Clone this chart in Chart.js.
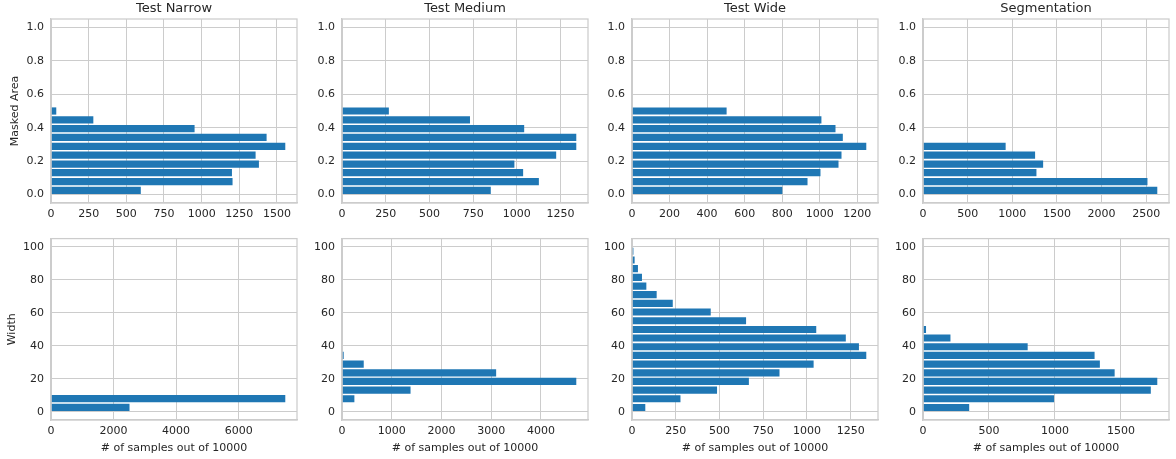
<!DOCTYPE html>
<html lang="en">
<head>
  <meta charset="UTF-8">
  <title>Masked area and width histograms</title>
  <script src="https://cdn.jsdelivr.net/npm/chart.js"></script>
  <style>
    body {
      margin: 0;
      background: #ffffff;
    }
    #wrap {
      position: relative;
      width: 1176px;
      height: 459px;
    }
    canvas {
      position: absolute;
    }
  </style>
</head>
<body>
  <div id="wrap"></div>

  <script>
    const panelTitles = ["Test Narrow", "Test Medium", "Test Wide", "Segmentation"];

    // top row: masked area, bin centres and counts
    const areaBins = [0.025, 0.078, 0.131, 0.183, 0.236, 0.289, 0.342, 0.395, 0.447, 0.500];
    const areaBinsSeg = [0.025, 0.078, 0.131, 0.183, 0.236, 0.289];
    const areaNarrow = [596, 1205, 1201, 1380, 1358, 1555, 1431, 953, 281, 35];
    const areaMedium = [851, 1126, 1036, 986, 1225, 1340, 1340, 1042, 732, 268];
    const areaWide = [801, 935, 1004, 1100, 1116, 1248, 1123, 1084, 1009, 504];
    const areaSeg = [2625, 2515, 1271, 1346, 1256, 926];

    // bottom row: width, bin centres and counts
    const widthBinsNarrow = [2.6, 7.9];
    const widthBinsMedium = [7.9, 13.1, 18.4, 23.6, 28.9, 34.2];
    const widthBinsWide = [2.6, 7.9, 13.1, 18.4, 23.6, 28.9, 34.2, 39.4, 44.7, 49.9,
                           55.2, 60.5, 65.7, 71.0, 76.2, 81.5, 86.8, 92.0, 97.3];
    const widthBinsSeg = [2.6, 7.9, 13.1, 18.4, 23.6, 28.9, 34.2, 39.4, 44.7, 49.9];
    const widthNarrow = [2510, 7490];
    const widthMedium = [249, 1378, 4710, 3099, 437, 34];
    const widthWide = [76, 277, 486, 668, 843, 1038, 1339, 1297, 1222, 1053,
                       652, 450, 233, 141, 82, 57, 34, 15, 8];
    const widthSeg = [350, 993, 1726, 1775, 1452, 1340, 1300, 793, 208, 23];

    // tick labels
    const areaTicks = [0, 0.2, 0.4, 0.6, 0.8, 1.0];
    const widthTicks = [0, 20, 40, 60, 80, 100];
    const areaCountTicks = [
      [0, 250, 500, 750, 1000, 1250, 1500],
      [0, 250, 500, 750, 1000, 1250],
      [0, 200, 400, 600, 800, 1000, 1200],
      [0, 500, 1000, 1500, 2000, 2500]
    ];
    const widthCountTicks = [
      [0, 2000, 4000, 6000],
      [0, 1000, 2000, 3000, 4000],
      [0, 250, 500, 750, 1000, 1250],
      [0, 500, 1000, 1500]
    ];

    const ink = "#262626";
    const gridGrey = "#cccccc";
    const family = "'DejaVu Sans', sans-serif";
    const plotLeft = [51, 342, 632, 923];

    // matplotlib style spines on all four sides, drawn over the bars
    const frame = {
      id: "frame",
      afterDatasetsDraw(chart) {
        const { ctx, chartArea: a } = chart;
        ctx.save();
        ctx.strokeStyle = gridGrey;
        ctx.lineWidth = 1.25;
        ctx.strokeRect(a.left, a.top, a.width, a.height);
        ctx.restore();
      }
    };

    function panel(col, row, bins, counts, xTicks) {
      const top = row === 0;
      const canvas = document.createElement("canvas");
      canvas.width = 51 + 246 + 4;
      canvas.height = top ? 225 : 234;
      canvas.style.left = (plotLeft[col] - 51) + "px";
      canvas.style.top = (top ? 0 : 225) + "px";
      document.getElementById("wrap").appendChild(canvas);

      const font = { family: family, size: 11 };

      new Chart(canvas, {
        type: "bar",
        data: {
          datasets: [{
            data: bins.map((b, i) => ({ x: counts[i], y: b })),
            backgroundColor: "#1f77b4",
            borderWidth: 0,
            barPercentage: 0.83,
            categoryPercentage: 1
          }]
        },
        options: {
          indexAxis: "y",
          responsive: false,
          animation: false,
          layout: { padding: { top: top ? 0 : 12, right: 4, left: 0, bottom: 0 } },
          plugins: {
            legend: { display: false },
            tooltip: { enabled: false },
            title: {
              display: top,
              text: panelTitles[col],
              color: ink,
              fullSize: false,
              font: { family: family, size: 13, weight: "normal" },
              padding: { top: 0.5, bottom: 2.9 }
            }
          },
          scales: {
            x: {
              type: "linear",
              min: 0,
              max: Math.max(...counts) * 1.05,
              afterBuildTicks: s => { s.ticks = xTicks.map(v => ({ value: v })); },
              afterFit: s => { s.height = top ? 22 : 39; },
              grid: { color: gridGrey, drawTicks: false },
              border: { color: gridGrey, width: 1.25 },
              ticks: { color: ink, font: font, padding: 5, maxRotation: 0, callback: v => String(v) },
              title: {
                display: !top,
                text: "# of samples out of 10000",
                color: ink,
                font: font,
                padding: { top: 0, bottom: 4.7 }
              }
            },
            y: {
              type: "linear",
              min: top ? -0.05 : -5,
              max: top ? 1.05 : 105,
              offset: false,
              afterBuildTicks: s => { s.ticks = (top ? areaTicks : widthTicks).map(v => ({ value: v })); },
              afterFit: s => { s.width = 51; },
              grid: { color: gridGrey, drawTicks: false, offset: false },
              border: { color: gridGrey, width: 1.25 },
              ticks: {
                color: ink,
                font: font,
                padding: 7,
                callback: v => top ? Number(v).toFixed(1) : String(v)
              },
              title: {
                display: col === 0,
                text: top ? "Masked Area" : "Width",
                color: ink,
                font: font,
                padding: { top: top ? 8.4 : 5.7, bottom: 0 }
              }
            }
          }
        },
        plugins: [frame]
      });
    }

    panel(0, 0, areaBins, areaNarrow, areaCountTicks[0]);
    panel(1, 0, areaBins, areaMedium, areaCountTicks[1]);
    panel(2, 0, areaBins, areaWide, areaCountTicks[2]);
    panel(3, 0, areaBinsSeg, areaSeg, areaCountTicks[3]);

    panel(0, 1, widthBinsNarrow, widthNarrow, widthCountTicks[0]);
    panel(1, 1, widthBinsMedium, widthMedium, widthCountTicks[1]);
    panel(2, 1, widthBinsWide, widthWide, widthCountTicks[2]);
    panel(3, 1, widthBinsSeg, widthSeg, widthCountTicks[3]);
  </script>
</body>
</html>
